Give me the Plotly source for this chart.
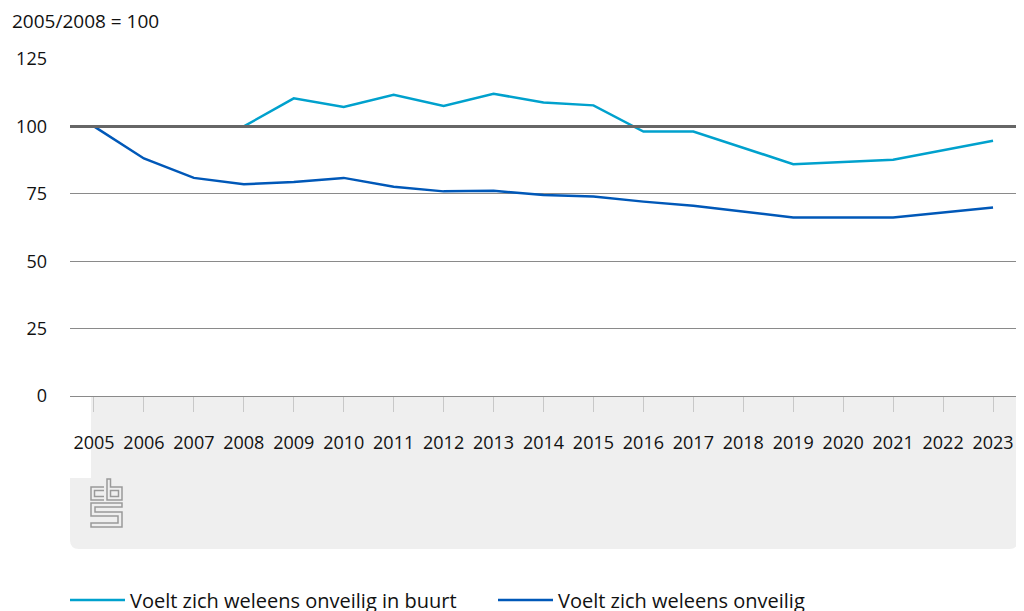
import base64
import plotly.graph_objects as go

years = list(range(2005, 2024))
# index 2005/2008 = 100; None = geen meting (lijn loopt door)
buurt = [None, None, None, 100, 110.4, 107.2, 111.7, 107.6, 112.1, 108.9,
         107.8, 98.1, 98.1, None, 86.0, None, 87.6, None, 94.7]
onveilig = [100, 88.1, 80.9, 78.5, 79.4, 80.9, 77.6, 75.9, 76.1, 74.6,
            74.0, 72.1, 70.6, None, 66.2, None, 66.2, None, 69.9]
names = ["Voelt zich weleens onveilig in buurt", "Voelt zich weleens onveilig"]
colors = ["#00a1cd", "#0058b8"]
base = 100
y_ticks = [0, 25, 50, 75, 100, 125]

# de pagina heeft 8px body-marge: figuur iets kleiner en alles 8px verschoven
OFF = 8
W, H = 1024 - OFF, 611 - OFF
L, R, T, B = 70 - OFF, 4, 59 - OFF, 215
pw, ph = W - L - R, H - T - B


def px(x):
    return (x - OFF - L) / pw


def py(y):
    return (H - B - (y - OFF)) / ph


fig = go.Figure()
for name, vals, c in zip(names, [buurt, onveilig], colors):
    fig.add_trace(go.Scatter(x=years, y=vals, name=name, mode="lines",
                             connectgaps=True,
                             line=dict(color=c, width=2.5)))

fig.add_hline(y=base, line=dict(color="#666666", width=3), layer="above")

# grijs vlak onder de x-as, in stukken (linkerdeel als raster van kleine rects)
grey = "#efefef"
r = 9
shapes = []
xs = [70, 91, 123, 200, 290, 381]
ys = [396, 478, 528, 541]
for i in range(len(xs) - 1):
    for j in range(len(ys) - 1):
        shapes.append(dict(type="rect", xref="paper", yref="paper",
                           x0=px(xs[i]), x1=px(xs[i + 1] + 0.5),
                           y0=py(ys[j]), y1=py(ys[j + 1] + 0.5),
                           fillcolor=grey, line=dict(width=0), layer="below"))
shapes += [
    dict(type="rect", xref="paper", yref="paper", x0=px(380), x1=px(700),
         y0=py(396), y1=py(549), fillcolor=grey, line=dict(width=0), layer="below"),
    dict(type="path", xref="paper", yref="paper", layer="below",
         fillcolor=grey, line=dict(width=0),
         path=(f"M{px(700):.5f},{py(396):.5f} L{px(1018):.5f},{py(396):.5f} "
               f"L{px(1018):.5f},{py(549 - r):.5f} "
               f"Q{px(1018):.5f},{py(549):.5f} {px(1018 - r):.5f},{py(549):.5f} "
               f"L{px(700):.5f},{py(549):.5f} Z")),
    dict(type="path", xref="paper", yref="paper", layer="below",
         fillcolor=grey, line=dict(width=0),
         path=(f"M{px(70):.5f},{py(549 - r - 0.5):.5f} L{px(381):.5f},{py(549 - r - 0.5):.5f} "
               f"L{px(381):.5f},{py(549):.5f} L{px(70 + r):.5f},{py(549):.5f} "
               f"Q{px(70):.5f},{py(549):.5f} {px(70):.5f},{py(549 - r - 0.5):.5f} Z")),
]

# cbs-logo als svg-plaatje
logo_svg = (
    '<svg xmlns="http://www.w3.org/2000/svg" width="34" height="51" viewBox="-1 -1 34 51">'
    '<g fill="none" stroke="#9a9a9a" stroke-width="1.5">'
    '<path d="M13,8 L0,8 L0,21 L13,21 M13,11.5 L3.5,11.5 L3.5,17.5 L13,17.5"/>'
    '<path d="M16,0 L19.5,0 L19.5,8 L31,8 L31,21 L16,21 Z M19.5,11.5 L27.5,11.5 L27.5,17.5 L19.5,17.5 Z"/>'
    '<path d="M0,24 L31,24 L31,28 L4,28 L4,33 L31,33 L31,48 L0,48 L0,44 L27,44 L27,37 L0,37 Z"/>'
    '</g></svg>'
)
logo_src = "data:image/svg+xml;base64," + base64.b64encode(logo_svg.encode()).decode()

fig.update_layout(
    width=W, height=H,
    margin=dict(l=L, r=R, t=T, b=B, autoexpand=False),
    paper_bgcolor="white", plot_bgcolor="rgba(0,0,0,0)",
    font=dict(family="Open Sans", size=18, color="#111111"),
    shapes=shapes,
    images=[dict(source=logo_src, xref="paper", yref="paper",
                 x=px(90), y=py(478), sizex=34 / pw, sizey=51 / ph,
                 xanchor="left", yanchor="top", sizing="stretch",
                 layer="above")],
    showlegend=True,
    legend=dict(orientation="h", x=px(65), xanchor="left", y=py(600),
                yanchor="middle", entrywidth=358, entrywidthmode="pixels",
                font=dict(size=20), itemwidth=55, bgcolor="rgba(0,0,0,0)"),
    annotations=[dict(text="2005/2008 = 100", xref="paper", yref="paper",
                      x=px(10), y=py(21), xanchor="left", yanchor="middle",
                      showarrow=False, font=dict(size=19))],
    xaxis=dict(range=[2004.52, 2023.54], tickmode="array", tickvals=years,
               ticktext=[str(y) for y in years], ticks="outside",
               ticklen=15, tickcolor="#c8c8c8", tickwidth=1,
               ticklabelstandoff=15, showgrid=False, zeroline=False,
               showline=False, fixedrange=True),
    yaxis=dict(range=[0, 125], tickvals=y_ticks, showgrid=True,
               gridcolor="#8a8a8a", gridwidth=1, zeroline=True,
               zerolinecolor="#8a8a8a", zerolinewidth=1,
               ticks="", ticklabelstandoff=22, showline=False,
               fixedrange=True),
)

fig.write_html("out.html")
